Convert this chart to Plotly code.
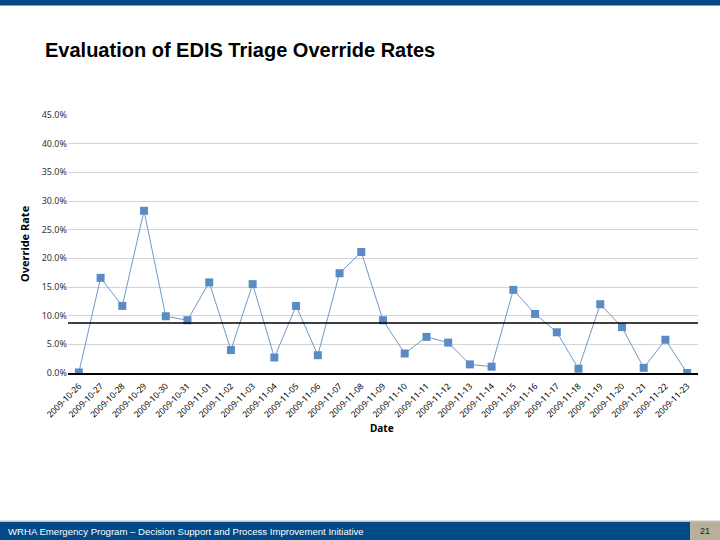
import plotly.graph_objects as go

dates = ["2009-10-26", "2009-10-27", "2009-10-28", "2009-10-29", "2009-10-30", "2009-10-31",
         "2009-11-01", "2009-11-02", "2009-11-03", "2009-11-04", "2009-11-05", "2009-11-06",
         "2009-11-07", "2009-11-08", "2009-11-09", "2009-11-10", "2009-11-11", "2009-11-12",
         "2009-11-13", "2009-11-14", "2009-11-15", "2009-11-16", "2009-11-17", "2009-11-18",
         "2009-11-19", "2009-11-20", "2009-11-21", "2009-11-22", "2009-11-23"]
override_rate = [0.1, 16.6, 11.7, 28.3, 9.9, 9.2, 15.8, 4.0, 15.5, 2.7, 11.7, 3.1, 17.4, 21.1,
                 9.2, 3.4, 6.3, 5.3, 1.5, 1.1, 14.5, 10.3, 7.1, 0.75, 12.0, 8.0, 0.9, 5.8, 0.0]
y_ticks = [0, 5, 10, 15, 20, 25, 30, 35, 40, 45]
y_tick_labels = ["0.0%", "5.0%", "10.0%", "15.0%", "20.0%", "25.0%", "30.0%", "35.0%", "40.0%", "45.0%"]
mean_rate = sum(override_rate) / len(override_rate)

W, H = 720, 540
L, R, T, B = 68, 22, 115, 167
PW, PH = W - L - R, H - T - B


def px(x):
    return (x - L) / PW


def py(y):
    return (H - B - y) / PH


fig = go.Figure()
fig.add_trace(go.Scatter(
    x=dates, y=override_rate, mode="lines+markers",
    line=dict(color="#7199c8", width=1),
    marker=dict(symbol="square", size=8, color="#5b8bc5"),
    showlegend=False,
))

shapes = [
    dict(type="line", xref="paper", yref="y", x0=0, x1=1, y0=mean_rate, y1=mean_rate,
         line=dict(color="black", width=1.5)),
    dict(type="rect", xref="paper", yref="paper", x0=px(0), x1=px(720), y0=py(0), y1=py(5.5),
         fillcolor="#004a88", line=dict(width=0)),
    dict(type="rect", xref="paper", yref="paper", x0=px(0), x1=px(720), y0=py(520.5), y1=py(522),
         fillcolor="#b9c3cc", line=dict(width=0)),
    dict(type="rect", xref="paper", yref="paper", x0=px(0), x1=px(690), y0=py(522), y1=py(540),
         fillcolor="#004a88", line=dict(width=0)),
    dict(type="rect", xref="paper", yref="paper", x0=px(690), x1=px(720), y0=py(522), y1=py(540),
         fillcolor="#b8b09a", line=dict(width=0)),
]

annotations = [
    dict(text="<b>Evaluation of EDIS Triage Override Rates</b>", xref="paper", yref="paper",
         x=px(43), y=py(50), xanchor="left", yanchor="middle", showarrow=False,
         font=dict(family="Liberation Sans, Arial", size=20, color="black")),
    dict(text="<b>Override Rate</b>", xref="paper", yref="paper", x=px(24), y=py(244),
         xanchor="center", yanchor="middle", textangle=-90, showarrow=False,
         font=dict(family="Noto Sans", size=11, color="black")),
    dict(text="<b>Date</b>", xref="paper", yref="paper", x=px(382), y=py(428),
         xanchor="center", yanchor="middle", showarrow=False,
         font=dict(family="Noto Sans", size=10, color="black")),
    dict(text="WRHA Emergency Program – Decision Support and Process Improvement Initiative",
         xref="paper", yref="paper", x=px(6), y=py(531.5), xanchor="left", yanchor="middle",
         showarrow=False, font=dict(family="Liberation Sans, Arial", size=9.6, color="white")),
    dict(text="21", xref="paper", yref="paper", x=px(705), y=py(531), xanchor="center",
         yanchor="middle", showarrow=False,
         font=dict(family="Liberation Sans, Arial", size=9, color="#222222")),
]

fig.update_layout(
    width=W, height=H,
    margin=dict(l=L, r=R, t=T, b=B),
    paper_bgcolor="white", plot_bgcolor="white",
    shapes=shapes, annotations=annotations,
    xaxis=dict(type="category", range=[-0.5, len(dates) - 0.5], tickangle=-45,
               showgrid=False, showline=True, linecolor="black", linewidth=1.5,
               ticks="", ticklabelstandoff=3,
               tickfont=dict(family="Noto Sans", size=8.5, color="black")),
    yaxis=dict(range=[0, 45], tickvals=y_ticks, ticktext=y_tick_labels,
               showgrid=True, gridcolor="#d4d4d4", gridwidth=1, zeroline=False,
               showline=False, ticks="", ticklen=0,
               tickfont=dict(family="Noto Sans", size=9, color="#333333")),
)

fig.write_html("out.html", config={"displayModeBar": False},
               post_script="document.body.style.margin='0';document.body.style.overflow='hidden';")
